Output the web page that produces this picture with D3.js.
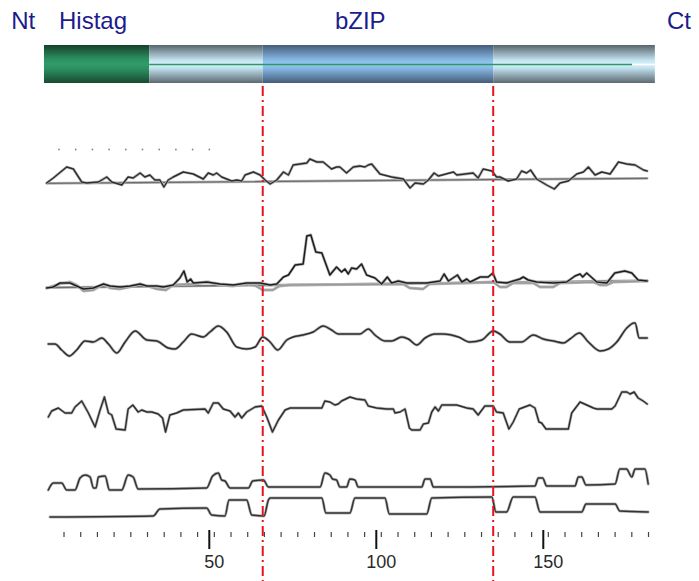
<!DOCTYPE html>
<html>
<head>
<meta charset="utf-8">
<script src="https://cdn.jsdelivr.net/npm/d3@7/dist/d3.min.js"></script>
<style>
body { margin:0; background:#ffffff; }
svg { display:block; }
.domainLabel { font-family:"Liberation Sans", Arial, sans-serif; font-size:24px; fill:#1c1c8c; }
.tickLabel { font-family:"Liberation Sans", Arial, sans-serif; font-size:18px; fill:#2a2a2a; }
</style>
</head>
<body>
<svg id="chart"></svg>
<script>
// domain labels and boundaries (residue numbers)
var domainNames = ["Nt","Histag","bZIP","Ct"];
var domainLabelPos = [-9.3,5,87.6,187];
var barStart = 0.5, barEnd = 183.4;
var histagEnd = 32;
var bzipBounds = [66,135];
var lineEnd = 176.6;

// axis ticks
var majorTicks = [50,100,150];
var minorTicks = [6.5,11.5,16.5,21.5,26.5,31.5,36.5,41.5,46.5,51.5,56.5,61.5,66.5,71.5,76.5,81.5,86.5,91.5,
    96.5,101.5,106.5,111.5,116.5,121.5,126.5,131.5,136.5,141.5,146.5,151.5,156.5,161.5,166.5,171.5,176.5,181.5];
var dotTicks = [5,10,15,20,25,30,35,40,45,50];

// trace 1 (residue, value)
var trace1 = [[1.3,-0.2],[3.3,0.3],[7.3,1.4],[9.3,1.2],[11.8,-0.1],[13.3,-0.2],[16.8,-0.1],[19.3,0.4],[20.8,-0.1],
    [23.8,-0.4],[25.7,0.4],[27.2,0.3],[29.3,0.8],[30.7,0.4],[32.2,0.6],[33.7,0.1],[35.2,0.1],[36.4,-0.6],[37.7,0.1],
    [39.2,0.4],[42.2,0.9],[45.2,0.7],[48.2,0.2],[49.7,0.8],[51.2,0.6],[52.2,0.8],[53.7,0.4],[56.7,0.0],[58.2,0.1],
    [59.7,0.0],[60.7,0.6],[63.2,0.9],[65.2,0.6],[66.7,0.1],[68.2,-0.3],[70.2,0.1],[72.2,0.9],[73.7,0.6],[75.1,1.6],
    [79.2,1.8],[80.1,2.2],[82.2,1.9],[84.1,1.9],[86.6,1.2],[88.1,1.4],[89.1,1.4],[91.1,0.8],[93.1,1.4],[95.1,1.5],
    [96.6,1.4],[97.6,1.6],[98.6,1.7],[101.1,0.7],[104.6,0.4],[108.1,0.2],[110.1,-0.7],[111.6,-0.2],[114.1,-0.3],
    [115.6,0.1],[117.3,0.8],[118.6,0.5],[123.1,0.9],[124.1,0.6],[129.0,0.8],[130.5,0.3],[132.0,1.2],[134.6,1.0],
    [136.0,0.4],[137.0,0.4],[139.5,0.0],[142.0,0.2],[143.5,1.0],[145.0,0.8],[146.2,1.1],[148.0,0.2],[151.0,-0.4],
    [153.3,-0.8],[155.0,-0.2],[157.5,0.0],[160.0,0.7],[162.0,0.9],[163.5,1.4],[165.5,0.6],[167.5,0.9],[170.0,0.7],
    [172.5,1.9],[175.0,1.7],[177.5,1.6],[180.0,1.1],[181.1,1.0]];
var base1 = [[1.3,-0.23],[181.1,0.27]];

// trace 2 (black) and its grey companion
var trace2 = [[1.3,-0.3],[3.3,-0.2],[5.3,0.2],[8.3,0.2],[10.3,-0.1],[12.3,-0.4],[15.3,-0.3],[18.3,0.1],[20.3,-0.1],
    [23.3,-0.2],[26.3,-0.1],[29.3,0.1],[31.3,-0.1],[34.3,-0.1],[36.2,-0.2],[39.2,0.0],[41.2,0.7],[42.4,1.4],[43.4,0.3],
    [44.4,0.6],[45.2,0.2],[49.2,0.3],[53.2,0.1],[57.2,0.0],[61.2,0.2],[65.2,0.2],[68.2,0.0],[70.2,0.1],[72.2,0.8],
    [73.7,1.0],[75.7,2.0],[78.1,2.1],[79.2,4.9],[80.4,5.0],[81.9,3.3],[83.7,3.2],[86.1,1.0],[88.1,1.8],[89.6,1.3],
    [90.6,1.6],[91.6,1.1],[92.6,1.7],[94.1,1.6],[95.6,2.1],[97.1,1.0],[99.6,0.7],[101.6,0.1],[103.3,0.8],[104.6,0.2],
    [106.6,0.4],[109.1,0.2],[115.1,0.2],[119.1,0.4],[120.3,1.1],[121.6,0.4],[124.3,1.0],[125.6,0.3],[127.1,0.6],
    [128.1,0.3],[131.1,0.8],[133.5,0.8],[134.9,1.2],[136.0,0.3],[139.0,0.2],[143.0,0.6],[144.0,0.8],[145.5,0.5],
    [148.0,0.3],[153.0,0.2],[157.0,0.3],[159.5,0.9],[161.0,1.1],[161.8,0.8],[163.0,1.2],[164.0,0.9],[166.0,0.3],
    [169.0,0.2],[171.4,1.2],[174.4,1.4],[176.5,1.2],[178.4,0.5],[181.1,0.4]];
var trace2grey = [[1.3,-0.3],[5,0.1],[8.3,0.3],[10.3,0],[12.3,-0.6],[15.3,-0.5],[18.3,0.1],[20.3,-0.3],[23.3,-0.4],
    [26.3,-0.2],[29.3,0.1],[31.3,-0.1],[34.3,-0.4],[37,-0.5],[39.2,0],[45,0.1],[50,0.3],[53,0.0],[57,-0.1],[61,0.1],
    [64,-0.1],[66,-0.5],[69,-0.5],[71,-0.1],[74,0.0],[108,0.1],[110,-0.3],[114,-0.4],[116,0.1],[135,0.3],[137,-0.2],
    [139,-0.2],[141,0.2],[147,0.2],[149,-0.2],[153,-0.2],[155,0.2],[165,0.3],[167,0.0],[169,0.0],[171,0.3],[181.1,0.4]];
var base2 = [[1.3,-0.27],[181.1,0.43]];

// trace 3 (smooth profile)
var trace3 = [[1.8,-0.4],[3.8,-0.4],[5.8,-1.0],[8.1,-1.6],[10.3,-1.0],[12.8,-0.1],[15.3,-0.2],[17.8,0.2],[19.8,-0.4],
    [22.3,-1.3],[24.8,-0.2],[27.8,0.9],[31.3,0.0],[34.3,-0.1],[37.7,-0.8],[39.7,-0.9],[42.2,-0.2],[44.7,0.6],[48.2,0.3],
    [50.2,0.8],[52.7,1.4],[55.2,0.8],[58.2,-0.7],[61.2,-0.9],[63.7,-0.7],[66.0,0.3],[68.2,-0.2],[70.5,-1.0],[73.2,0.0],
    [75.1,0.3],[78.1,0.5],[81.1,0.8],[84.1,1.4],[86.6,1.0],[88.6,0.6],[93.1,0.6],[95.1,0.6],[97.6,1.1],[99.6,0.5],
    [102.6,-0.1],[104.6,-0.1],[107.6,0.3],[109.6,0.1],[112.1,-0.5],[114.6,0.2],[117.6,0.6],[120.1,0.6],[124.6,0.3],
    [128.0,-0.2],[131.6,0.0],[135.0,0.9],[137.0,0.6],[140.0,-0.2],[143.5,-0.2],[147.0,0.5],[150.0,0.1],[153.0,-0.1],
    [156.0,-0.3],[158.0,0.1],[160.8,0.7],[163.5,-0.2],[167.0,-1.1],[169.5,-0.9],[172.0,-0.2],[175.0,1.2],[177.2,1.7],
    [177.5,1.7],[178.7,0.2],[181.1,0.2]];

// trace 4
var trace4 = [[1.8,-0.7],[2.8,-0.1],[4.8,0.2],[6.8,-0.3],[8.8,-0.3],[9.8,0.3],[11.8,0.9],[13.8,-0.3],[15.8,-1.7],
    [17.3,0.0],[18.6,1.3],[19.8,-0.3],[20.8,-0.5],[22.1,-1.9],[24.8,-2.0],[25.7,0.1],[27.1,0.5],[28.7,-0.2],[29.8,0.0],
    [31.3,-0.2],[32.8,-0.2],[34.7,-0.4],[36.0,-0.8],[36.9,-2.2],[38.2,-0.5],[40.2,-0.3],[42.2,0.0],[48.7,0.1],
    [49.7,-0.3],[51.2,0.7],[52.7,0.7],[54.2,0.1],[56.2,-0.1],[57.7,-0.7],[58.7,-0.3],[59.7,-0.8],[61.2,-0.2],
    [63.7,0.3],[65.7,0.4],[67.2,-0.7],[68.9,-2.2],[70.7,-1.0],[72.7,0.0],[74.2,0.2],[83.7,0.2],[84.6,0.9],[86.1,0.8],
    [87.6,0.5],[88.6,0.6],[89.6,0.9],[92.1,1.3],[94.1,1.1],[96.6,1.0],[97.6,0.4],[100.1,0.2],[103.1,0.1],[105.1,0.1],
    [105.6,-0.3],[107.1,-0.2],[108.6,0.1],[109.9,-1.8],[110.6,-2.0],[113.1,-2.0],[114.1,-1.4],[115.6,-1.3],
    [116.6,-0.2],[117.6,0.3],[118.6,-0.1],[119.6,0.5],[124.1,0.5],[127.1,0.2],[129.0,0.1],[130.5,-0.5],[132.5,0.4],
    [135.0,0.4],[136.0,-0.2],[138.0,-0.3],[139.7,-1.9],[141.0,-1.2],[142.8,0.1],[146.0,0.5],[147.5,0.2],[148.7,-1.2],
    [149.5,-1.3],[150.8,-1.9],[157.5,-1.9],[158.5,-0.3],[161.0,0.8],[163.0,0.5],[165.0,0.2],[166.0,0.1],[170.5,0.1],
    [171.5,0.4],[173.5,1.8],[175.0,1.8],[176.0,1.6],[177.2,1.8],[178.4,1.2],[179.9,0.9],[181.1,0.6]];

// trace 5 (upper step profile)
var trace5 = [[1.8,0.0],[3.3,0.7],[5.8,0.7],[7.3,0.0],[9.8,0.0],[11.3,1.2],[12.8,1.5],[14.3,1.3],[15.3,0.2],[16.1,0.2],
    [16.8,1.3],[18.8,1.4],[20.1,0.0],[23.8,0.0],[25.7,1.5],[27.2,1.3],[28.7,0.1],[49.2,0.2],[51.0,1.4],[52.7,1.7],
    [53.7,1.0],[54.7,0.9],[56.2,0.2],[61.7,0.2],[63.0,0.9],[66.2,1.0],[67.7,0.3],[83.2,0.3],[84.6,1.7],[86.1,1.5],
    [86.9,1.1],[88.1,1.0],[89.1,0.3],[91.1,0.3],[92.1,1.1],[93.6,1.0],[94.6,0.3],[113.6,0.3],[114.6,1.1],[116.1,1.1],
    [117.1,0.3],[147.5,0.4],[148.5,1.2],[149.8,1.2],[151.0,0.4],[159.5,0.4],[160.5,1.3],[161.5,1.3],[162.8,0.5],
    [171.5,0.6],[172.9,2.1],[174.9,2.1],[176.5,1.3],[177.5,2.1],[180.4,2.1],[181.4,0.6]];

// trace 6 (lower step profile)
var trace6 = [[2.3,-0.2],[33.2,-0.1],[35.2,0.6],[49.2,0.7],[50.7,0.0],[54.7,-0.1],[55.9,1.5],[61.2,1.5],[62.7,0.0],
    [66.4,-0.1],[67.7,1.5],[68.2,1.7],[83.7,1.7],[84.9,0.2],[92.1,0.2],[93.6,1.7],[102.6,1.7],[103.9,0.1],[115.1,0.1],
    [116.6,1.7],[134.6,1.8],[135.8,0.3],[139.0,0.3],[141.0,1.8],[147.5,1.8],[149.0,0.3],[161.5,0.3],[162.8,1.1],
    [171.5,1.1],[172.9,0.4],[181.4,0.3]];

var drawBar = function(svg,xScale)
{
    var defs = svg.append("defs");
    var grads = [
        {id:"gGreen", stops:[["0%","#163f2b"],["35%","#2b8d5e"],["50%","#309c69"],["65%","#2b8d5e"],["100%","#164a30"]]},
        {id:"gGrey", stops:[["0%","#56646b"],["40%","#c4e3f0"],["50%","#d6f0fa"],["60%","#c4e3f0"],["100%","#5b6970"]]},
        {id:"gBlue", stops:[["0%","#465b78"],["40%","#88bbe8"],["50%","#95c6f2"],["60%","#88bbe8"],["100%","#465b78"]]}
    ];
    grads.forEach(function(g)
    {
        var lg = defs.append("linearGradient")
            .attr("id",g.id)
            .attr("x1",0).attr("y1",0).attr("x2",0).attr("y2",1);
        lg.selectAll("stop")
            .data(g.stops)
            .enter()
            .append("stop")
            .attr("offset",function(s){ return s[0]; })
            .attr("stop-color",function(s){ return s[1]; });
    });

    var segs = [
        {from:barStart, to:histagEnd, fill:"url(#gGreen)"},
        {from:histagEnd, to:bzipBounds[0], fill:"url(#gGrey)"},
        {from:bzipBounds[0], to:bzipBounds[1], fill:"url(#gBlue)"},
        {from:bzipBounds[1], to:barEnd, fill:"url(#gGrey)"}
    ];
    svg.append("g")
        .selectAll("rect")
        .data(segs)
        .enter()
        .append("rect")
        .attr("x",function(d){ return xScale(d.from); })
        .attr("width",function(d){ return xScale(d.to)-xScale(d.from); })
        .attr("y",45)
        .attr("height",38)
        .attr("fill",function(d){ return d.fill; });

    svg.append("line")
        .attr("x1",xScale(histagEnd)).attr("x2",xScale(lineEnd))
        .attr("y1",64.5).attr("y2",64.5)
        .attr("stroke","#2a9a62").attr("stroke-width",1.5);
    svg.append("line")
        .attr("x1",xScale(lineEnd)).attr("x2",xScale(barEnd))
        .attr("y1",64.5).attr("y2",64.5)
        .attr("stroke","#ffffff").attr("stroke-width",1.5);

    svg.append("g")
        .selectAll("text")
        .data(domainNames)
        .enter()
        .append("text")
        .classed("domainLabel",true)
        .attr("x",function(d,i){ return xScale(domainLabelPos[i]); })
        .attr("y",29)
        .text(function(d){ return d; });
}

// scanned look: soft grey halo under a darker core line
var drawTrace = function(svg,xScale,yRef,data,color,width,curve)
{
    var yScale = d3.scaleLinear()
        .domain([0,1])
        .range([yRef,yRef-10]);
    var line = d3.line()
        .x(function(d){ return xScale(d[0]); })
        .y(function(d){ return yScale(d[1]); })
        .curve(curve || d3.curveLinear);
    svg.append("path")
        .datum(data)
        .attr("d",line)
        .attr("fill","none")
        .attr("stroke","#b5b5b5")
        .attr("stroke-width",width+1.4)
        .attr("stroke-linejoin","round")
        .attr("stroke-linecap","round");
    svg.append("path")
        .datum(data)
        .attr("d",line)
        .attr("fill","none")
        .attr("stroke",color)
        .attr("stroke-width",width)
        .attr("stroke-linejoin","round")
        .attr("stroke-linecap","round");
}

var drawAxis = function(svg,xScale)
{
    var g = svg.append("g");
    g.selectAll(".minor")
        .data(minorTicks)
        .enter()
        .append("line")
        .classed("minor",true)
        .attr("x1",function(d){ return xScale(d); })
        .attr("x2",function(d){ return xScale(d); })
        .attr("y1",532).attr("y2",537)
        .attr("stroke","#444").attr("stroke-width",1.2);
    g.selectAll(".major")
        .data(majorTicks)
        .enter()
        .append("line")
        .classed("major",true)
        .attr("x1",function(d){ return xScale(d); })
        .attr("x2",function(d){ return xScale(d); })
        .attr("y1",530).attr("y2",549)
        .attr("stroke","#111").attr("stroke-width",2);
    g.selectAll("text")
        .data(majorTicks)
        .enter()
        .append("text")
        .classed("tickLabel",true)
        .attr("text-anchor","middle")
        .attr("x",function(d){ return xScale(d)+5; })
        .attr("y",568)
        .text(function(d){ return d; });

    svg.append("g")
        .selectAll("circle")
        .data(dotTicks)
        .enter()
        .append("circle")
        .attr("cx",function(d){ return xScale(d); })
        .attr("cy",149.5)
        .attr("r",0.9)
        .attr("fill","#888");
}

var drawBounds = function(svg,xScale)
{
    svg.append("g")
        .selectAll("line")
        .data(bzipBounds)
        .enter()
        .append("line")
        .attr("x1",function(d){ return xScale(d); })
        .attr("x2",function(d){ return xScale(d); })
        .attr("y1",86).attr("y2",581)
        .attr("stroke","#e8141c")
        .attr("stroke-width",2)
        .attr("stroke-dasharray","10,4,2,4");
}

var initGraph = function()
{
    var screen = {width:699,height:581};
    var svg = d3.select("#chart")
        .attr("width",screen.width)
        .attr("height",screen.height);

    var xScale = d3.scaleLinear()
        .domain([0,150])
        .range([42.3,543.3]);

    drawBar(svg,xScale);

    drawTrace(svg,xScale,181,base1,"#6e6e6e",1.3);
    drawTrace(svg,xScale,181,trace1,"#2e2e2e",1.4);

    drawTrace(svg,xScale,285,base2,"#6e6e6e",1.3);
    drawTrace(svg,xScale,285,trace2grey,"#9a9a9a",1.4);
    drawTrace(svg,xScale,285,trace2,"#1e1e1e",1.5);

    drawTrace(svg,xScale,340,trace3,"#2e2e2e",1.5,d3.curveMonotoneX);
    drawTrace(svg,xScale,410,trace4,"#2e2e2e",1.4);
    drawTrace(svg,xScale,490,trace5,"#333",1.5,d3.curveMonotoneX);
    drawTrace(svg,xScale,515,trace6,"#333",1.5,d3.curveMonotoneX);

    drawAxis(svg,xScale);
    drawBounds(svg,xScale);
}

initGraph();
</script>
</body>
</html>
